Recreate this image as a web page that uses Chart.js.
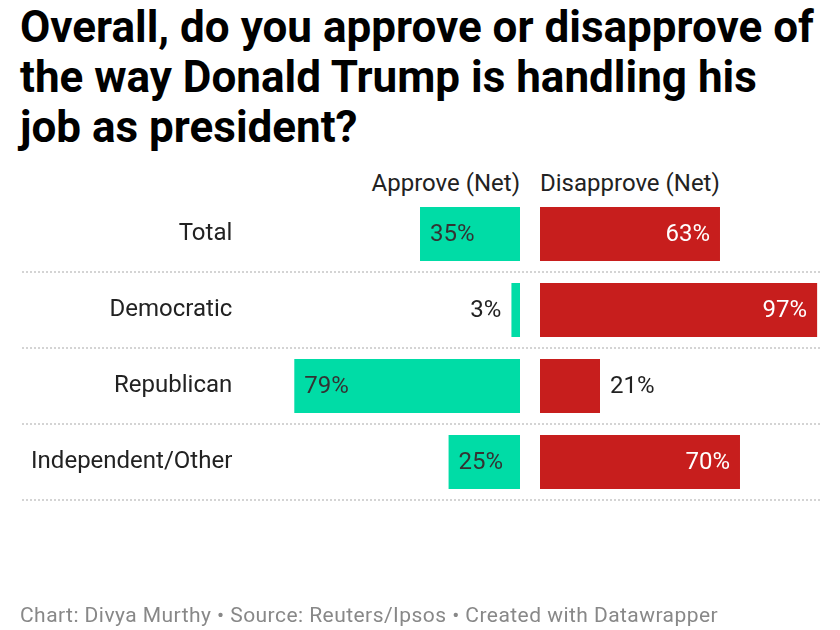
<!DOCTYPE html>
<html>
<head>
<meta charset="utf-8">
<script src="https://cdn.jsdelivr.net/npm/chart.js@4"></script>
<style>
  html, body { margin:0; padding:0; background:#fff; }
  body { width:840px; height:630px; position:relative; overflow:hidden; font-family:Roboto, "Noto Sans", sans-serif; }
  #title { position:absolute; left:20px; top:2px; width:830px; font-weight:700; font-size:44px; line-height:50px; letter-spacing:0px; color:#000; white-space:nowrap; }
  .hdr { position:absolute; top:169px; font-size:24px; color:#222; line-height:28px; white-space:nowrap; }
  #hA { right:320px; text-align:right; }
  #hD { left:540px; }
  #footer { position:absolute; left:20px; top:603px; font-size:21px; line-height:24px; letter-spacing:0.45px; color:#888; white-space:nowrap; }
  canvas { position:absolute; left:0; top:0; }
  .wrap { position:absolute; left:0; top:0; width:840px; height:630px; }
</style>
</head>
<body>
<div id="title">Overall, do you approve or disapprove of<br>the way Donald Trump is handling his<br>job as president?</div>
<div class="hdr" id="hA"></div>
<div class="hdr" id="hD"></div>
<div class="wrap"><canvas id="cA" width="840" height="630"></canvas></div>
<div class="wrap"><canvas id="cD" width="840" height="630"></canvas></div>
<div id="footer">Chart: Divya Murthy • Source: Reuters/Ipsos • Created with Datawrapper</div>
<script>
const categories = ['Total', 'Democratic', 'Republican', 'Independent/Other'];
const approve = [35, 3, 79, 25];
const disapprove = [63, 97, 21, 70];
const seriesNames = ['Approve (Net)', 'Disapprove (Net)'];

document.getElementById('hA').textContent = seriesNames[0];
document.getElementById('hD').textContent = seriesNames[1];

const GREEN = '#00dca6';
const RED = '#c71e1d';
const FONT = 'Roboto, "Noto Sans", sans-serif';

function valueLabels(side) {
  return {
    id: 'valueLabels' + side,
    afterDatasetsDraw(chart) {
      const ctx = chart.ctx;
      const meta = chart.getDatasetMeta(0);
      const data = chart.data.datasets[0].data;
      ctx.save();
      ctx.font = '24px ' + FONT;
      ctx.textBaseline = 'middle';
      meta.data.forEach((bar, i) => {
        const txt = data[i] + '%';
        const tw = ctx.measureText(txt).width;
        const left = Math.min(bar.x, bar.base);
        const right = Math.max(bar.x, bar.base);
        const w = right - left;
        const inside = tw + 20 <= w;
        if (side === 'A') {
          if (inside) { ctx.fillStyle = '#333'; ctx.textAlign = 'left'; ctx.fillText(txt, left + 10, bar.y + 1); }
          else { ctx.fillStyle = '#222'; ctx.textAlign = 'right'; ctx.fillText(txt, left - 10, bar.y + 1); }
        } else {
          if (inside) { ctx.fillStyle = '#fff'; ctx.textAlign = 'right'; ctx.fillText(txt, right - 10, bar.y + 1); }
          else { ctx.fillStyle = '#222'; ctx.textAlign = 'left'; ctx.fillText(txt, right + 10, bar.y + 1); }
        }
      });
      ctx.restore();
    }
  };
}

const separators = {
  id: 'separators',
  beforeDatasetsDraw(chart) {
    const ctx = chart.ctx;
    const y = chart.scales.y;
    ctx.save();
    ctx.strokeStyle = '#d4d4d4';
    ctx.lineWidth = 2;
    ctx.setLineDash([2, 2]);
    for (let i = 0; i < categories.length; i++) {
      const p = y.getPixelForValue(i);
      const half = (y.getPixelForValue(1) - y.getPixelForValue(0)) / 2;
      const yy = Math.round(p + half);
      ctx.beginPath();
      ctx.moveTo(22, yy);
      ctx.lineTo(822, yy);
      ctx.stroke();
    }
    ctx.restore();
  }
};

const common = {
  indexAxis: 'y',
  responsive: false,
  animation: false,
  events: [],
  plugins: { legend: { display: false }, tooltip: { enabled: false } }
};

new Chart(document.getElementById('cA'), {
  type: 'bar',
  data: { labels: categories, datasets: [{ data: approve, backgroundColor: GREEN, barPercentage: 0.71, categoryPercentage: 1 }] },
  options: Object.assign({}, common, {
    layout: { padding: { left: 0, right: 320, top: 196, bottom: 130 } },
    scales: {
      x: { display: false, reverse: true, min: 0, max: 100 },
      y: {
        grid: { display: false, drawTicks: false },
        border: { display: false },
        ticks: { color: '#222', font: { family: FONT, size: 24 }, padding: 2 },
        afterFit(scale) { scale.width = 234.3; }
      }
    }
  }),
  plugins: [separators, valueLabels('A')]
});

new Chart(document.getElementById('cD'), {
  type: 'bar',
  data: { labels: categories, datasets: [{ data: disapprove, backgroundColor: RED, barPercentage: 0.71, categoryPercentage: 1 }] },
  options: Object.assign({}, common, {
    layout: { padding: { left: 540, right: 14.3, top: 196, bottom: 130 } },
    scales: {
      x: { display: false, min: 0, max: 100 },
      y: { display: false }
    }
  }),
  plugins: [valueLabels('D')]
});
</script>
</body>
</html>
